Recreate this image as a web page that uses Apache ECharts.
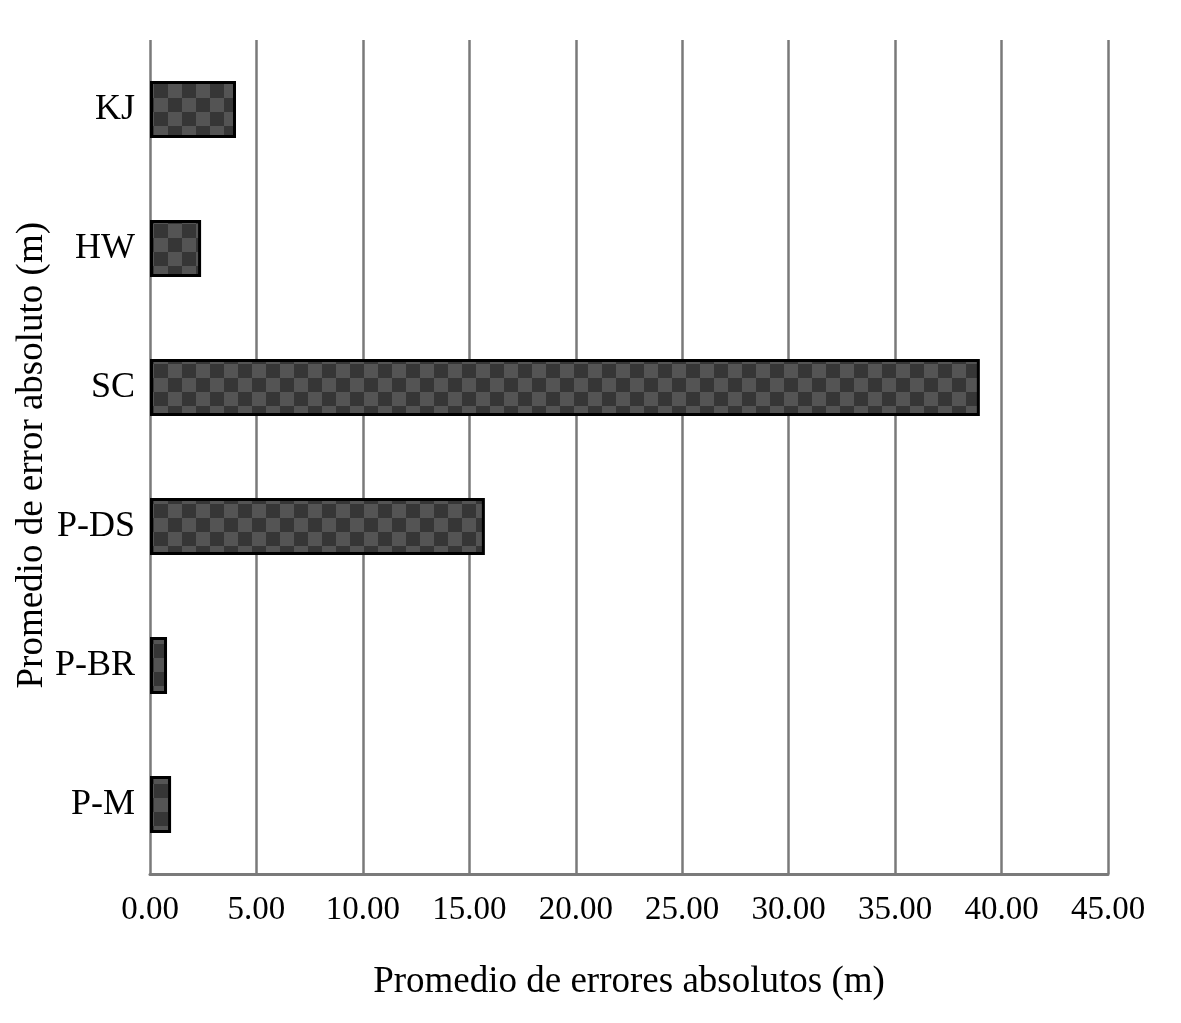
<!DOCTYPE html>
<html><head><meta charset="utf-8">
<script src="https://cdn.jsdelivr.net/npm/echarts@6/dist/echarts.min.js"></script>
<style>html,body{margin:0;padding:0;background:#fff}#c{width:1181px;height:1023px}</style>
</head><body><div id="c"></div>
<script>
const categories = ['P-M', 'P-BR', 'P-DS', 'SC', 'HW', 'KJ'];
const values = [0.99, 0.80, 15.73, 38.98, 2.40, 4.04];
const xTicks = { min: 0, max: 45, interval: 5 };

function makePattern() {
  const c = document.createElement('canvas');
  const s = 14;
  c.width = s * 2; c.height = s * 2;
  const g = c.getContext('2d');
  g.fillStyle = '#363636'; g.fillRect(0, 0, s * 2, s * 2);
  g.fillStyle = '#545454';
  g.fillRect(0, 0, s, s); g.fillRect(s, s, s, s);
  return c;
}

const font = '"Liberation Serif", "DejaVu Serif", serif';
const chart = echarts.init(document.getElementById('c'), null, { renderer: 'canvas' });
chart.setOption({
  animation: false,
  backgroundColor: '#fff',
  grid: { left: 150, right: 73, top: 40, bottom: 149, containLabel: false },
  xAxis: {
    type: 'value', min: xTicks.min, max: xTicks.max, interval: xTicks.interval,
    name: 'Promedio de errores absolutos (m)', nameLocation: 'middle', nameGap: 90,
    nameTextStyle: { fontFamily: font, fontSize: 37, color: '#000' },
    axisLine: { show: true, lineStyle: { color: '#7a7a7a', width: 3 } },
    axisTick: { show: false },
    axisLabel: { fontFamily: font, fontSize: 33, color: '#000', margin: 20,
      formatter: v => v.toFixed(2) },
    splitLine: { show: true, lineStyle: { color: '#7a7a7a', width: 2.5 } }
  },
  yAxis: {
    type: 'category', data: categories,
    axisLine: { show: false },
    axisTick: { show: false },
    axisLabel: { fontFamily: font, fontSize: 36, color: '#000', margin: 15 },
    splitLine: { show: false }
  },
  graphic: [{
    type: 'text', left: 14, top: 222, rotation: Math.PI / 2,
    style: { text: 'Promedio de error absoluto (m)', font: '37px ' + font, fill: '#000' }
  }],
  series: [{
    type: 'bar', data: values, barWidth: '41%',
    itemStyle: { color: { image: makePattern(), repeat: 'repeat' }, borderColor: '#000', borderWidth: 3 }
  }]
});
</script></body></html>
